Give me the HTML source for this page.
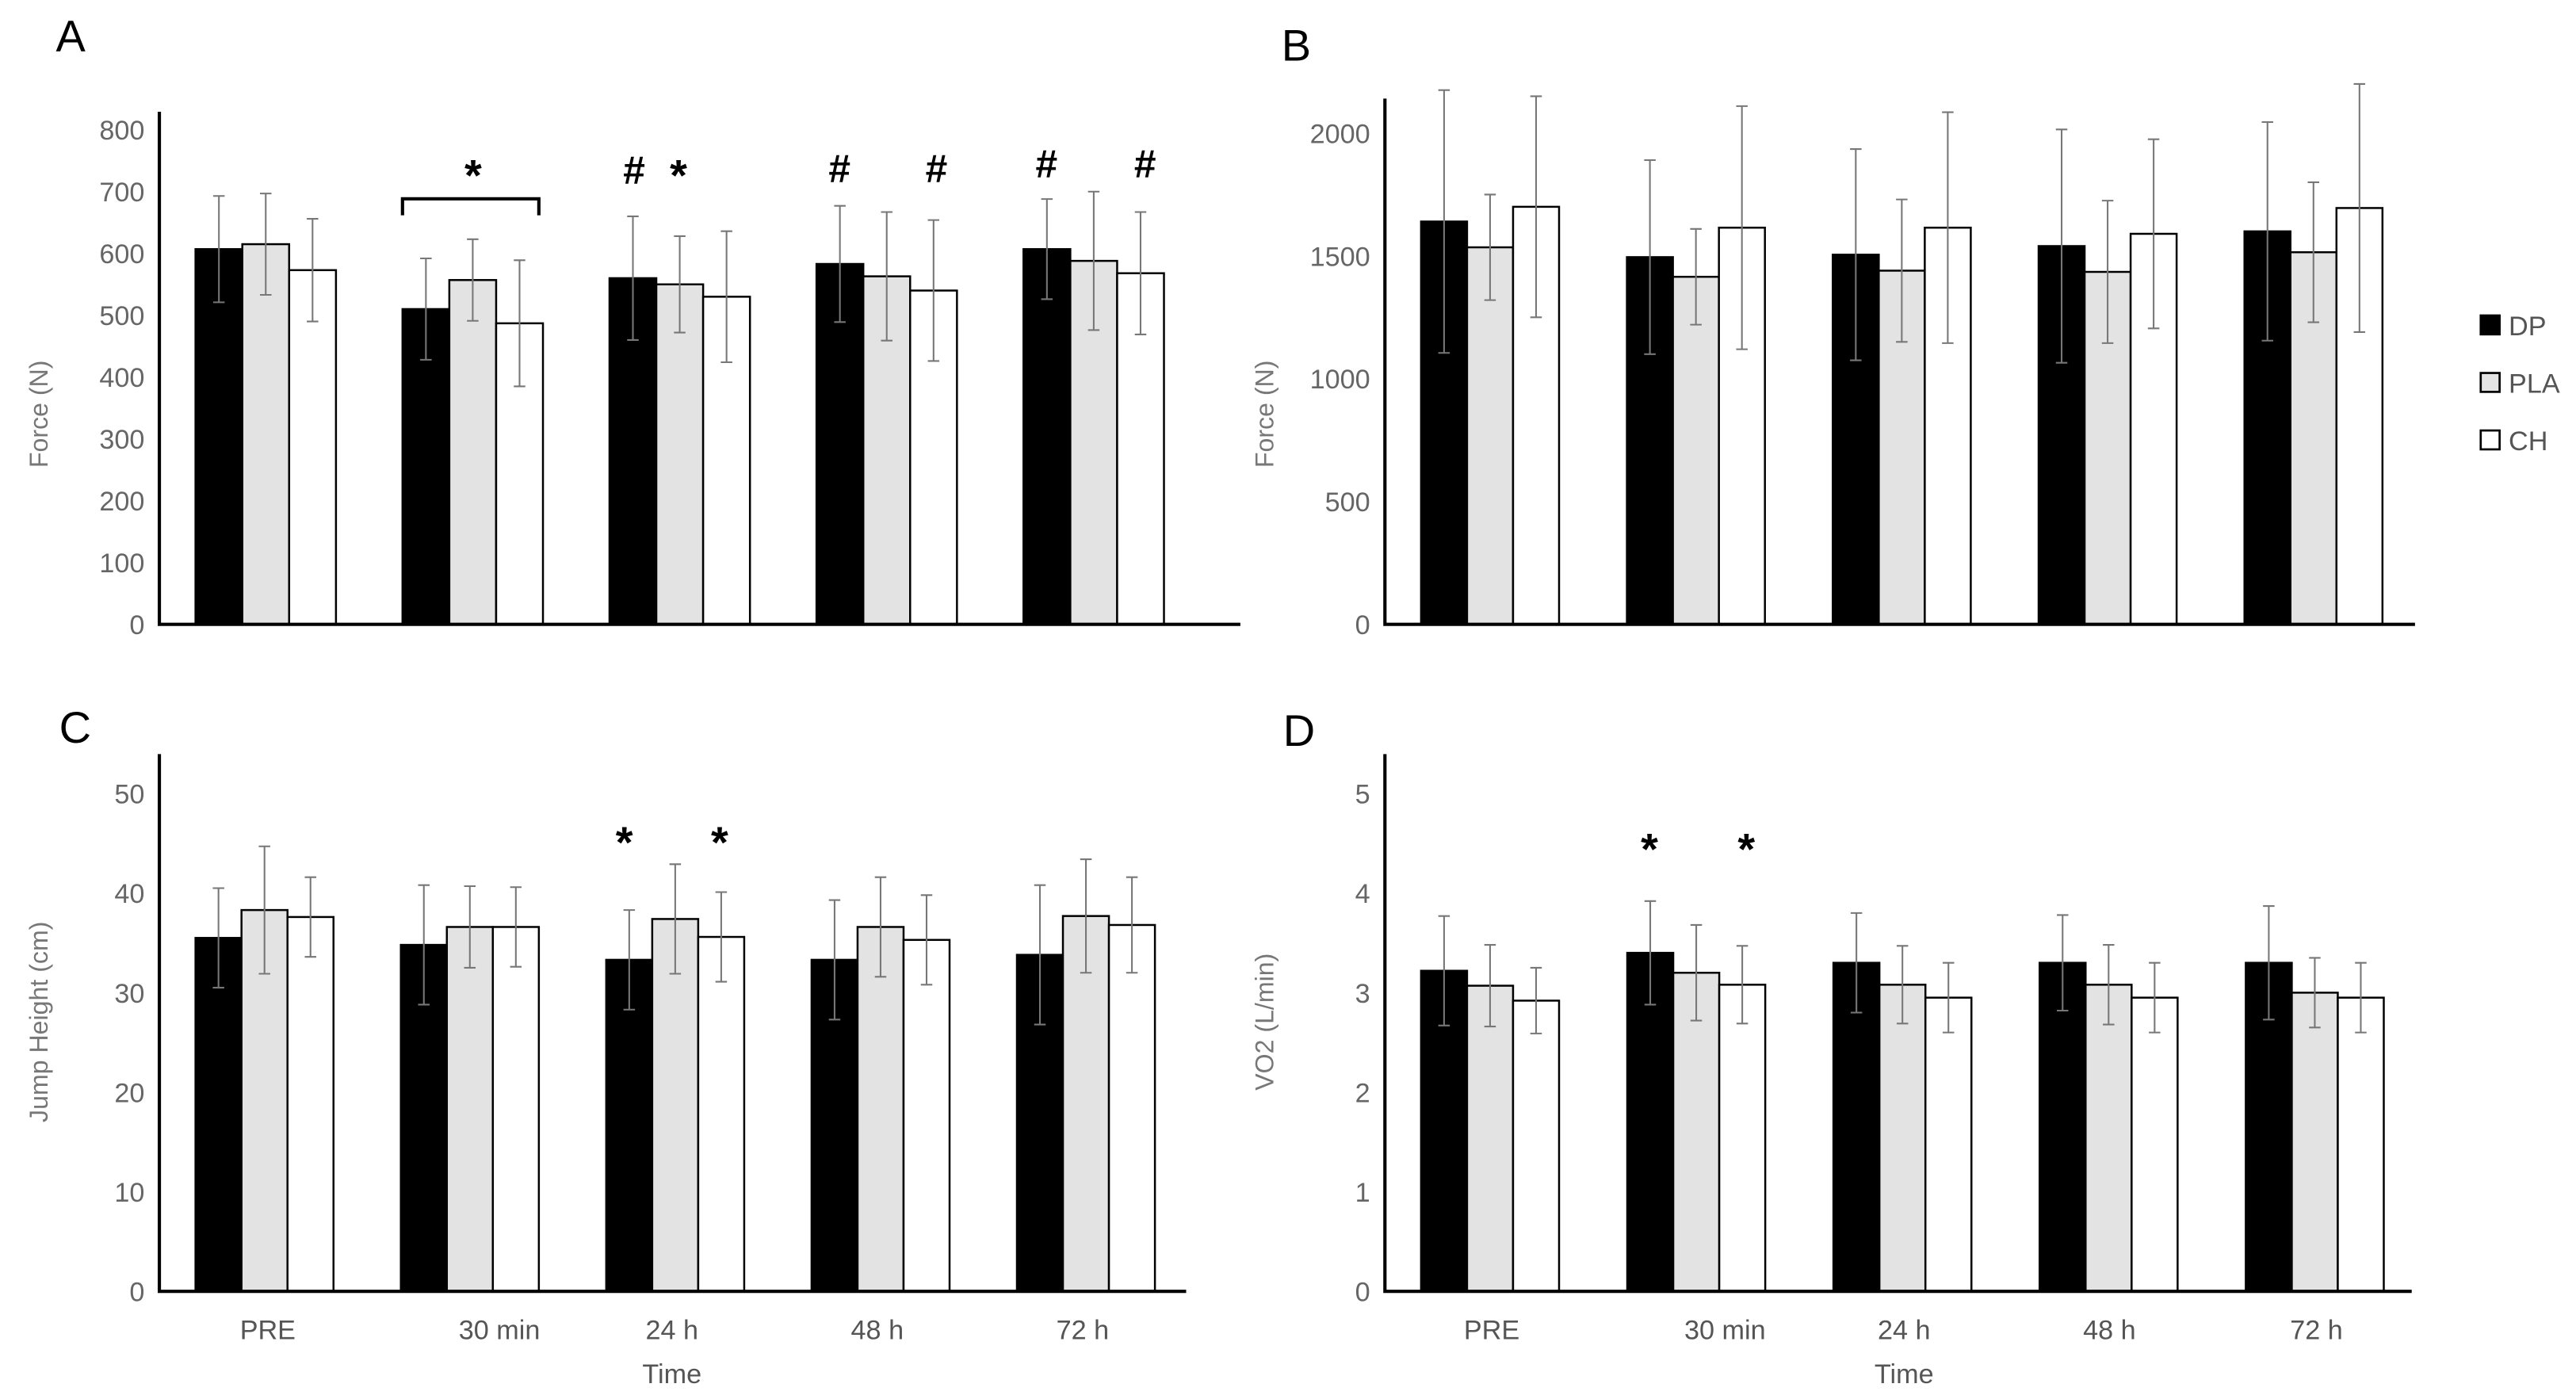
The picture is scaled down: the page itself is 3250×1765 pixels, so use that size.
<!DOCTYPE html>
<html><head><meta charset="utf-8"><style>
html,body{margin:0;padding:0;background:#fff}
svg{display:block}
text{font-family:"Liberation Sans",sans-serif}
</style></head><body>
<svg id="fig" xmlns="http://www.w3.org/2000/svg" width="3250" height="1765" viewBox="0 0 1568 851.5">
<rect width="1568" height="851.5" fill="#fff"/>
</svg>
<script>
const groups = ["PRE","30 min","24 h","48 h","72 h"];
const seriesNames = ["DP","PLA","CH"];
const aDP = [607,510,560,583,607];
const aPLA = [615,557,550,563,588];
const aCH = [573,487,530,540,568];
const aErrDP = [86,82,100,94,81];
const aErrPLA = [82,66,78,104,112];
const aErrCH = [83,102,106,114,99];
const aTicks = [0,100,200,300,400,500,600,700,800];
const bDP = [1640,1495,1505,1540,1600];
const bPLA = [1535,1415,1440,1435,1515];
const bCH = [1700,1615,1615,1590,1695];
const bErrDP = [535,395,430,475,445];
const bErrPLA = [215,195,290,290,285];
const bErrCH = [450,495,470,385,505];
const bTicks = [0,500,1000,1500,2000];
const cDP = [35.5,34.8,33.3,33.3,33.8];
const cPLA = [38.3,36.6,37.4,36.6,37.7];
const cCH = [37.6,36.6,35.6,35.3,36.8];
const cErrDP = [5,6,5,6,7];
const cErrPLA = [6.4,4.1,5.5,5,5.7];
const cErrCH = [4,4,4.5,4.5,4.8];
const cTicks = [0,10,20,30,40,50];
const dDP = [3.22,3.40,3.30,3.30,3.30];
const dPLA = [3.07,3.20,3.08,3.08,3.00];
const dCH = [2.92,3.08,2.95,2.95,2.95];
const dErrDP = [0.55,0.52,0.5,0.48,0.57];
const dErrPLA = [0.41,0.48,0.39,0.4,0.35];
const dErrCH = [0.33,0.39,0.35,0.35,0.35];
const dTicks = [0,1,2,3,4,5];

const NS = "http://www.w3.org/2000/svg";
const svg = document.getElementById('fig');
function mk(tag, attrs, parent){
  const e = document.createElementNS(NS, tag);
  for (const k in attrs) e.setAttribute(k, attrs[k]);
  (parent||svg).appendChild(e);
  return e;
}
const fills = ["#000","#e3e3e3","#fff"];

function panel(cfg){
  const g = mk('g', {});
  
  
  const y = v => cfg.zeroY - (v/cfg.max)*(cfg.zeroY - cfg.maxY);
  cfg.ticks.forEach(t => {
    const tx = mk('text', {x: cfg.axisX-9, y: y(t)+6, 'font-size': 16.5, fill:'#666', 'text-anchor':'end'}, g);
    tx.textContent = t;
    
    
  });
  const data = [cfg.dp, cfg.pla, cfg.ch];
  const errs = [cfg.edp, cfg.epla, cfg.ech];
  groups.forEach((gname, i) => {
    const gx = cfg.x0 + i*cfg.step;
    for (let s=0; s<3; s++){
      const bx = gx + s*cfg.bw;
      const top = y(data[s][i]);
      const r = mk('rect', {x: bx, y: top, width: cfg.bw, height: cfg.zeroY-top, fill: fills[s], stroke:'#000', 'stroke-width':1.2}, g);
      
      
      const cx = bx + cfg.bw/2;
      const y1 = y(data[s][i]+errs[s][i]), y2 = y(data[s][i]-errs[s][i]);
      const eb = mk('path', {d:`M${cx},${y1}V${y2}M${cx-3.5},${y1}H${cx+3.5}M${cx-3.5},${y2}H${cx+3.5}`, stroke:'#777', 'stroke-width':1, fill:'none'}, g);
      
      
    }
  });
  const ax = mk('path', {d:`M${cfg.axisX},${cfg.axisTop}V${cfg.zeroY}H${cfg.axisRight}`, stroke:'#000', 'stroke-width':2, fill:'none'}, g);
  
  
  const yt = mk('text', {x:0, y:0, 'font-size':15.5, fill:'#777', 'text-anchor':'middle', transform:`translate(${cfg.titleX},${cfg.titleY}) rotate(-90)`}, g);
  yt.textContent = cfg.ytitle;
  
  
  const L = mk('text', {x: cfg.letterX, y: cfg.letterY, 'font-size':27, fill:'#000'}, g);
  L.textContent = cfg.letter;
  
  
  if (cfg.xlabels){
    cfg.xlabels.forEach((lx, i) => {
      const t = mk('text', {x: lx, y: 815, 'font-size':16.5, fill:'#555', 'text-anchor':'middle'}, g);
      t.textContent = groups[i];
      
      
    });
    const tt = mk('text', {x: cfg.timeX, y: 842, 'font-size':16.5, fill:'#555', 'text-anchor':'middle'}, g);
    tt.textContent = 'Time';
    
    
  }
  return g;
}

panel({name:'panel-a', letter:'A', letterX:34, letterY:31, axisX:97, axisTop:68, axisRight:755, zeroY:380, maxY:79, max:800,
  x0:119, step:126, bw:28.5, dp:aDP, pla:aPLA, ch:aCH, edp:aErrDP, epla:aErrPLA, ech:aErrCH, ticks:aTicks,
  ytitle:'Force (N)', titleX:29, titleY:252});
panel({name:'panel-b', letter:'B', letterX:780, letterY:37, axisX:843, axisTop:60, axisRight:1470, zeroY:380, maxY:81, max:2000,
  x0:865, step:125.3, bw:28, dp:bDP, pla:bPLA, ch:bCH, edp:bErrDP, epla:bErrPLA, ech:bErrCH, ticks:bTicks,
  ytitle:'Force (N)', titleX:775, titleY:252});
panel({name:'panel-c', letter:'C', letterX:36, letterY:452, axisX:97, axisTop:459, axisRight:722, zeroY:786, maxY:483, max:50,
  x0:119, step:125, bw:28, dp:cDP, pla:cPLA, ch:cCH, edp:cErrDP, epla:cErrPLA, ech:cErrCH, ticks:cTicks,
  ytitle:'Jump Height (cm)', titleX:29, titleY:622, xlabels:[163,304,409,534,659], timeX:409});
panel({name:'panel-d', letter:'D', letterX:781, letterY:454, axisX:843, axisTop:459, axisRight:1468, zeroY:786, maxY:483, max:5,
  x0:865, step:125.5, bw:28, dp:dDP, pla:dPLA, ch:dCH, edp:dErrDP, epla:dErrPLA, ech:dErrCH, ticks:dTicks,
  ytitle:'VO2 (L/min)', titleX:775, titleY:622, xlabels:[908,1050,1159,1284,1410], timeX:1159});

const marks = [
  ['*',288,116],['#',386,112],['*',413,116],['#',511,111],['#',570,111],['#',637,108],['#',697,108],
  ['*',380,522],['*',438,522],['*',1004,526],['*',1063,526]
];
marks.forEach(m => {
  const t = mk('text', {x:m[1], y:m[2], 'font-size':m[0]=='*'?27:24, 'font-weight':'bold', fill:'#000', 'text-anchor':'middle'});
  t.textContent = m[0];
  
  
});
const br = mk('path', {d:'M245,131V121H328V131', stroke:'#000', 'stroke-width':2, fill:'none'});



const lg = mk('g', {});


[[192,'DP'],[227,'PLA'],[262,'CH']].forEach((l, i) => {
  const r = mk('rect', {x:1510, y:l[0], width:11.5, height:11.5, fill:fills[i], stroke:'#000', 'stroke-width':1.3}, lg);
  
  
  const t = mk('text', {x:1527, y:l[0]+12, 'font-size':16.5, fill:'#555'}, lg);
  t.textContent = l[1];
  
  
});
</script>
</body></html>
